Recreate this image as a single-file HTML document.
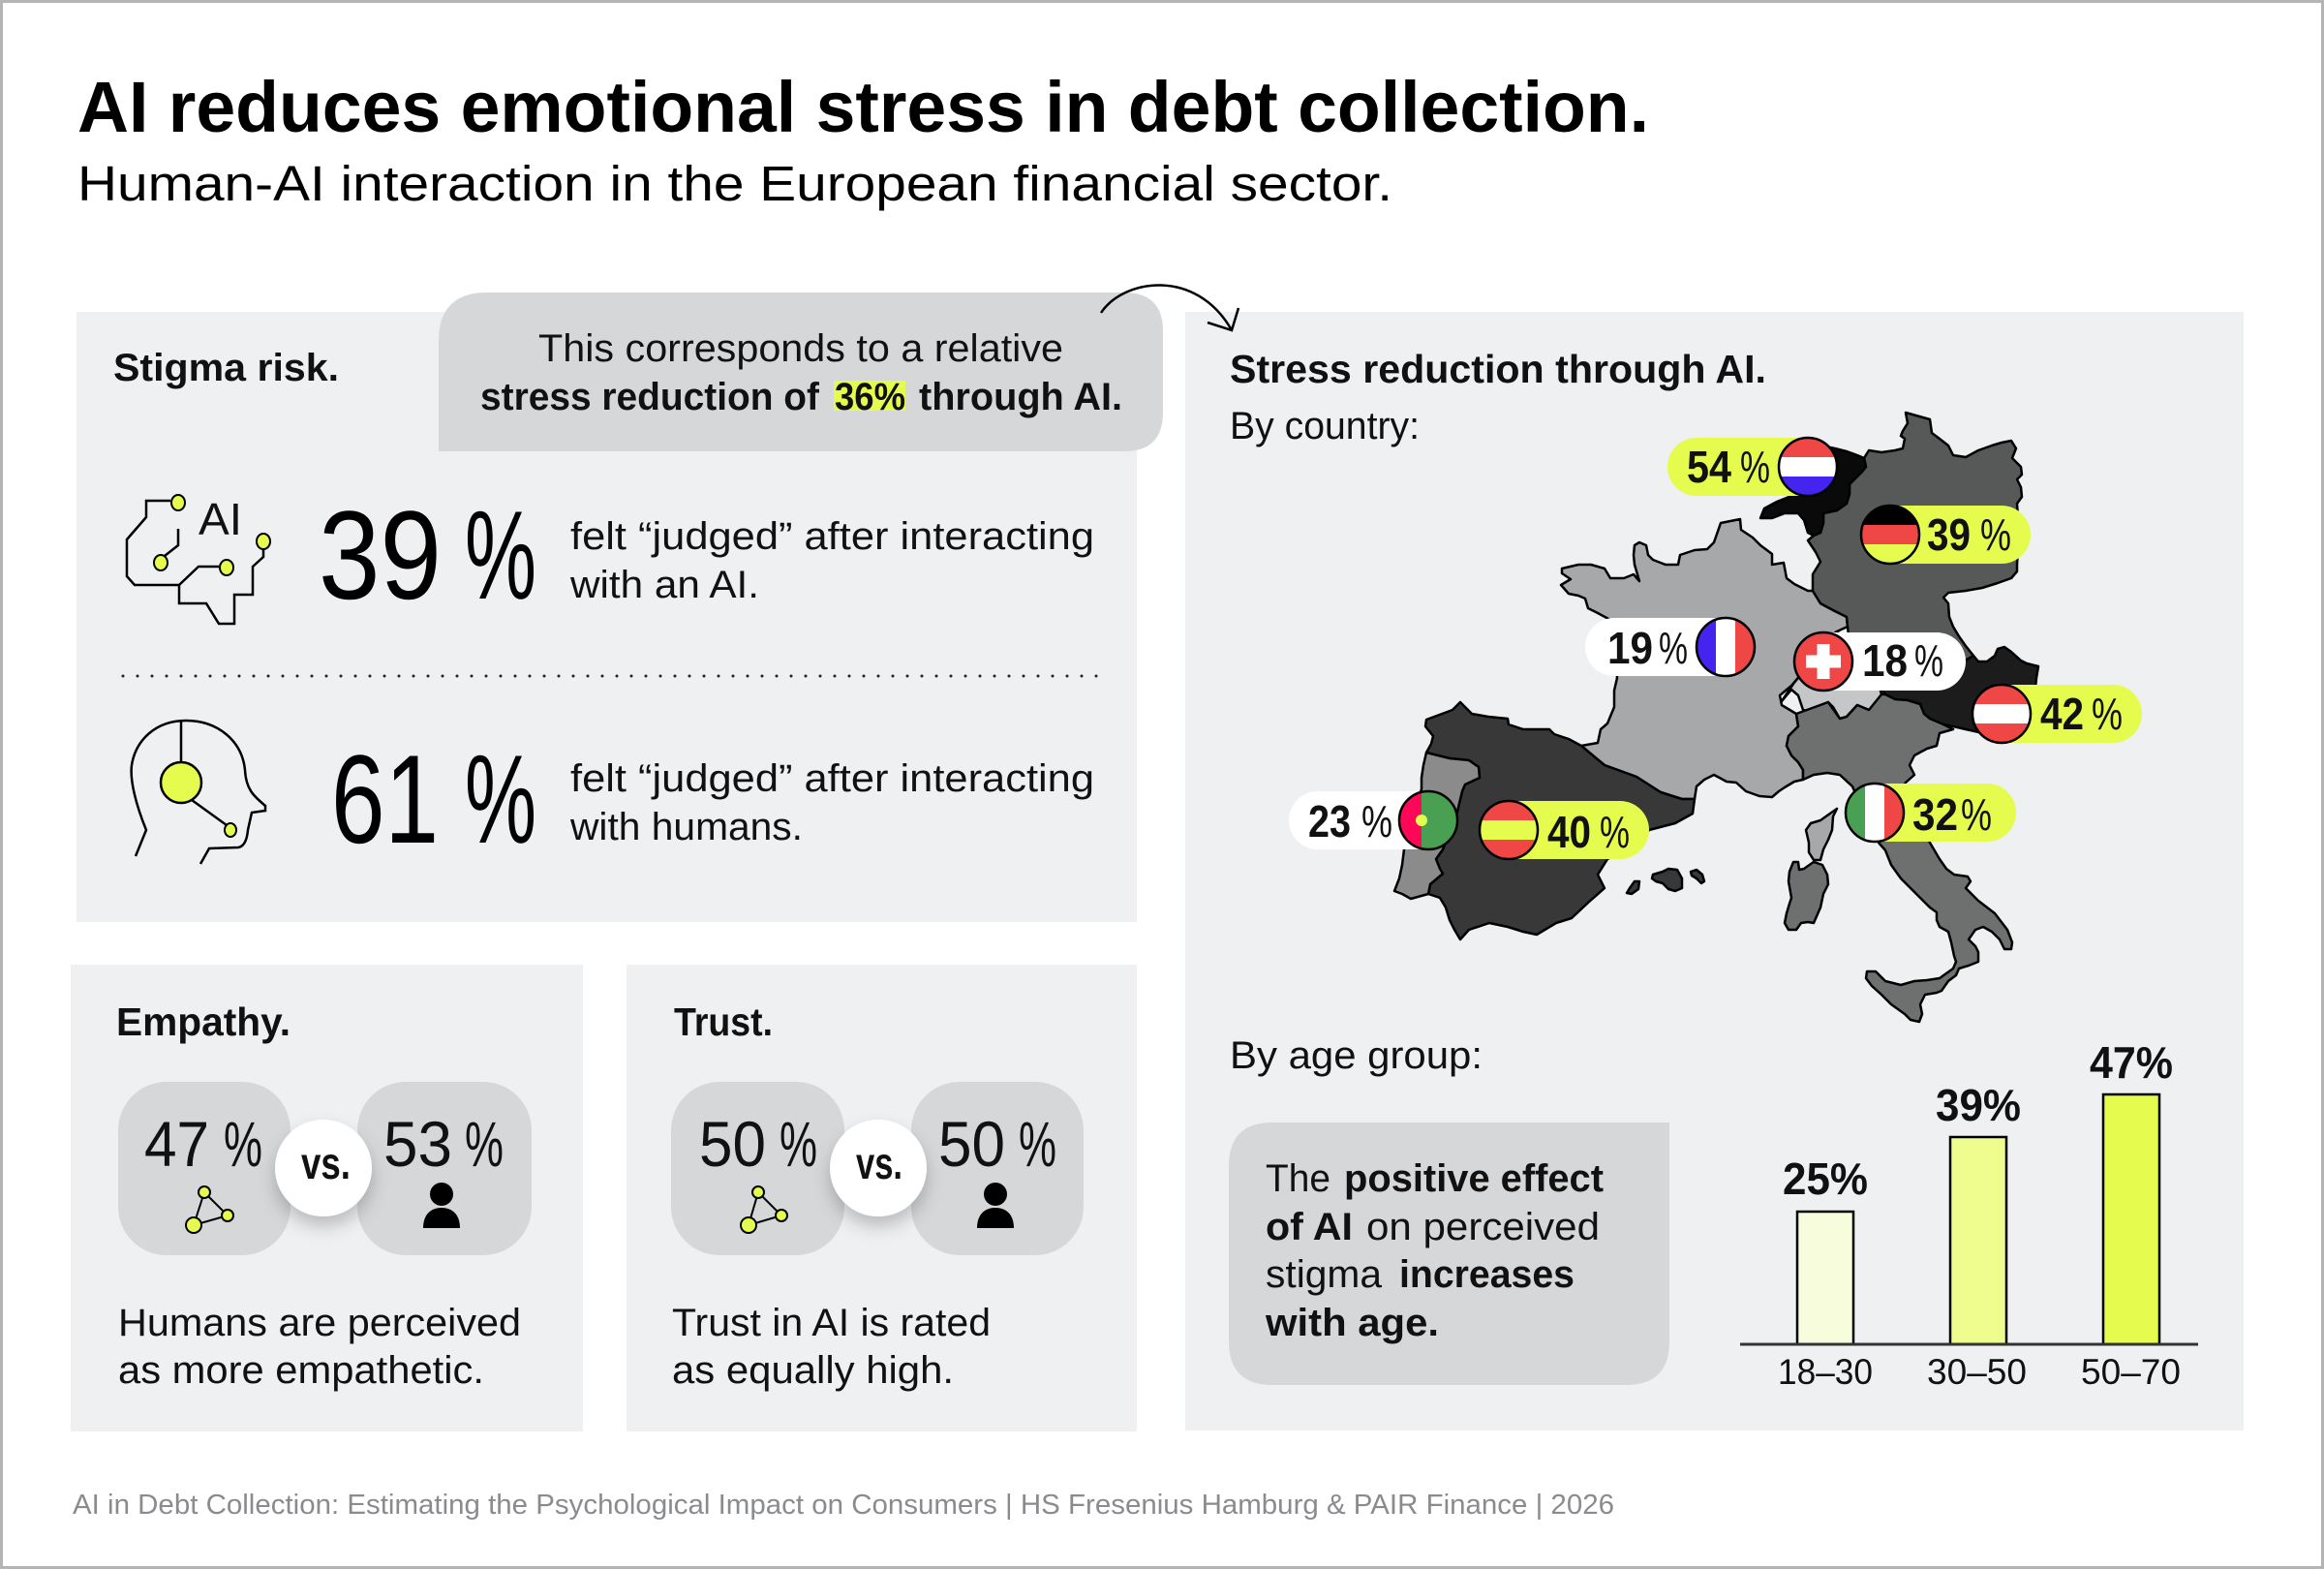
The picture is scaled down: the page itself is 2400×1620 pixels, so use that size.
<!DOCTYPE html>
<html><head><meta charset="utf-8"><style>
html,body{margin:0;padding:0;background:#fff}
svg{display:block}
text{font-family:"Liberation Sans",sans-serif;fill:#111}
.b{font-weight:700}
</style></head><body>
<svg width="2400" height="1620" viewBox="0 0 2400 1620" xmlns="http://www.w3.org/2000/svg">
<defs>
<clipPath id="fc"><circle cx="0" cy="0" r="30"/></clipPath>
<filter id="sh" x="-50%" y="-50%" width="200%" height="200%"><feDropShadow dx="0" dy="10" stdDeviation="9" flood-color="#000" flood-opacity="0.22"/></filter>
</defs>
<rect width="2400" height="1620" fill="#fff"/>
<rect x="1.5" y="1.5" width="2397" height="1617" fill="none" stroke="#b4b4b4" stroke-width="3"/>

<!-- Title -->
<text x="80" y="136" font-size="74" class="b" textLength="1623" lengthAdjust="spacingAndGlyphs" style="fill:#000">AI reduces emotional stress in debt collection.</text>
<text x="80" y="207" font-size="51" textLength="1358" lengthAdjust="spacingAndGlyphs" style="fill:#000">Human-AI interaction in the European financial sector.</text>

<!-- Stigma card -->
<rect x="79" y="322" width="1095" height="630" fill="#eff0f2"/>
<path d="M453,466 L453,352 Q453,302 503,302 L1161,302 Q1201,302 1201,342 L1201,426 Q1201,466 1161,466 Z" fill="#d6d7d9"/>
<rect x="861" y="393" width="74" height="31" fill="#e5fc4e"/>
<text x="556" y="373" font-size="40" textLength="542" lengthAdjust="spacingAndGlyphs">This corresponds to a relative</text>
<text x="496" y="423" font-size="40" class="b" textLength="350" lengthAdjust="spacingAndGlyphs">stress reduction of</text>
<text x="862" y="423" font-size="40" class="b" textLength="73" lengthAdjust="spacingAndGlyphs">36%</text>
<text x="949" y="423" font-size="40" class="b" textLength="210" lengthAdjust="spacingAndGlyphs">through AI.</text>

<text x="117" y="393" font-size="40" class="b" textLength="233" lengthAdjust="spacingAndGlyphs">Stigma risk.</text>

<!-- AI icon -->
<g fill="none" stroke="#000" stroke-width="2.5" stroke-linejoin="miter">
<path d="M176,517 L151,517 L151,534 L131,557 L131,595 L139,604 L185,604 L185,623 L213,623 L226,644 L242,644 L242,614 L261,614 L261,585 L272,575 L272,567"/>
<path d="M185,604 L205,585 L226,585"/>
<path d="M170,574 L184,563 L184,546"/>
</g>
<g fill="#e5fc4e" stroke="#000" stroke-width="2">
<ellipse cx="184" cy="519" rx="7" ry="8"/>
<ellipse cx="272" cy="559" rx="7" ry="8"/>
<ellipse cx="234" cy="586" rx="7" ry="8"/>
<ellipse cx="166" cy="581" rx="7" ry="8"/>
</g>
<text x="205" y="552" font-size="46" textLength="45" lengthAdjust="spacingAndGlyphs">AI</text>

<text x="329" y="618" font-size="130" textLength="127" lengthAdjust="spacingAndGlyphs" style="fill:#000">39</text>
<text x="480" y="618" font-size="130" textLength="74" lengthAdjust="spacingAndGlyphs" style="fill:#000">%</text>
<text x="589" y="567" font-size="40" textLength="541" lengthAdjust="spacingAndGlyphs">felt “judged” after interacting</text>
<text x="589" y="617" font-size="40" textLength="195" lengthAdjust="spacingAndGlyphs">with an AI.</text>

<line x1="127" y1="698" x2="1140" y2="698" stroke="#222" stroke-width="3" stroke-dasharray="0 15" stroke-linecap="round"/>

<!-- Head icon -->
<g fill="none" stroke="#000" stroke-width="2.5">
<path d="M140,884 L151,857 C140,830 134,805 136,790 C140,765 160,744 192,744 C225,744 250,765 253,795 C254,815 262,822 274,832 L274,837 L260,839 L256,857 C255,868 252,874 246,875 L216,876 L207,892"/>
<path d="M187,745 L187,787"/>
<path d="M198,826 L234,852"/>
</g>
<circle cx="187" cy="808" r="21" fill="#e5fc4e" stroke="#000" stroke-width="2.5"/>
<ellipse cx="238" cy="857" rx="6" ry="7" fill="#e5fc4e" stroke="#000" stroke-width="2"/>

<text x="342" y="870" font-size="130" textLength="111" lengthAdjust="spacingAndGlyphs" style="fill:#000">61</text>
<text x="480" y="870" font-size="130" textLength="74" lengthAdjust="spacingAndGlyphs" style="fill:#000">%</text>
<text x="589" y="817" font-size="40" textLength="541" lengthAdjust="spacingAndGlyphs">felt “judged” after interacting</text>
<text x="589" y="867" font-size="40" textLength="240" lengthAdjust="spacingAndGlyphs">with humans.</text>

<!-- Empathy card -->
<rect x="73" y="996" width="529" height="482" fill="#eff0f2"/>
<text x="120" y="1069" font-size="41" class="b" textLength="180" lengthAdjust="spacingAndGlyphs">Empathy.</text>
<rect x="122" y="1117" width="178" height="179" rx="50" fill="#d6d7d9"/>
<rect x="369" y="1117" width="180" height="179" rx="50" fill="#d6d7d9"/>
<circle cx="334" cy="1206" r="50" fill="#fff" filter="url(#sh)"/>
<text x="311" y="1217" font-size="46" class="b" textLength="51" lengthAdjust="spacingAndGlyphs">vs.</text>
<text x="149" y="1204" font-size="66" textLength="67" lengthAdjust="spacingAndGlyphs">47</text>
<text x="231" y="1204" font-size="66" textLength="40" lengthAdjust="spacingAndGlyphs">%</text>
<text x="396" y="1204" font-size="66" textLength="71" lengthAdjust="spacingAndGlyphs">53</text>
<text x="480" y="1204" font-size="66" textLength="40" lengthAdjust="spacingAndGlyphs">%</text>
<g stroke="#000" stroke-width="2">
<path d="M211,1231 L200,1265 L235,1255 Z" fill="none"/>
<circle cx="211" cy="1231" r="6" fill="#e5fc4e"/>
<circle cx="235" cy="1255" r="6" fill="#e5fc4e"/>
<circle cx="200" cy="1265" r="8" fill="#e5fc4e"/>
</g>
<circle cx="456" cy="1233" r="12" fill="#000"/>
<path d="M437,1268 L475,1268 C475,1255 468,1247 456,1247 C444,1247 437,1255 437,1268 Z" fill="#000"/>
<text x="122" y="1379" font-size="40" textLength="416" lengthAdjust="spacingAndGlyphs">Humans are perceived</text>
<text x="122" y="1428" font-size="40" textLength="378" lengthAdjust="spacingAndGlyphs">as more empathetic.</text>

<!-- Trust card -->
<rect x="647" y="996" width="527" height="482" fill="#eff0f2"/>
<text x="696" y="1069" font-size="41" class="b" textLength="102" lengthAdjust="spacingAndGlyphs">Trust.</text>
<rect x="693" y="1117" width="179" height="179" rx="50" fill="#d6d7d9"/>
<rect x="941" y="1117" width="178" height="179" rx="50" fill="#d6d7d9"/>
<circle cx="907" cy="1206" r="50" fill="#fff" filter="url(#sh)"/>
<text x="884" y="1217" font-size="46" class="b" textLength="48" lengthAdjust="spacingAndGlyphs">vs.</text>
<text x="722" y="1204" font-size="66" textLength="69" lengthAdjust="spacingAndGlyphs">50</text>
<text x="805" y="1204" font-size="66" textLength="39" lengthAdjust="spacingAndGlyphs">%</text>
<text x="969" y="1204" font-size="66" textLength="69" lengthAdjust="spacingAndGlyphs">50</text>
<text x="1052" y="1204" font-size="66" textLength="39" lengthAdjust="spacingAndGlyphs">%</text>
<g stroke="#000" stroke-width="2">
<path d="M783,1231 L773,1265 L807,1255 Z" fill="none"/>
<circle cx="783" cy="1231" r="6" fill="#e5fc4e"/>
<circle cx="807" cy="1255" r="6" fill="#e5fc4e"/>
<circle cx="773" cy="1265" r="8" fill="#e5fc4e"/>
</g>
<circle cx="1028" cy="1233" r="12" fill="#000"/>
<path d="M1009,1268 L1047,1268 C1047,1255 1040,1247 1028,1247 C1016,1247 1009,1255 1009,1268 Z" fill="#000"/>
<text x="694" y="1379" font-size="40" textLength="329" lengthAdjust="spacingAndGlyphs">Trust in AI is rated</text>
<text x="694" y="1428" font-size="40" textLength="291" lengthAdjust="spacingAndGlyphs">as equally high.</text>

<!-- Right card -->
<rect x="1224" y="322" width="1093" height="1155" fill="#eff0f2"/>
<text x="1270" y="395" font-size="41" class="b" textLength="554" lengthAdjust="spacingAndGlyphs">Stress reduction through AI.</text>
<text x="1270" y="453" font-size="40" textLength="196" lengthAdjust="spacingAndGlyphs">By country:</text>

<!-- Arrow (drawn over right card) -->
<path d="M1137,323 C1160,288 1235,276 1272,341" fill="none" stroke="#000" stroke-width="2.5"/>
<path d="M1247,333 L1272,341 L1279,318" fill="none" stroke="#000" stroke-width="2.5" stroke-linejoin="miter"/>

<!-- Map -->
<g stroke="#000" stroke-width="2.5" stroke-linejoin="round">
<polygon fill="#a7a8aa" points="1613,587 1630,583 1643,583 1657,587 1663,597 1677,597 1687,593 1693,600 1688,583 1687,573 1688,563 1693,560 1700,563 1702,573 1707,578 1720,583 1733,583 1735,573 1750,568 1763,567 1770,560 1777,540 1797,536 1798,547 1810,555 1818,563 1830,572 1830,583 1842,581 1845,597 1853,603 1867,610 1872,610 1880,623 1893,630 1907,637 1908,647 1897,652 1880,665 1865,690 1850,708 1838,718 1840,728 1855,737 1857,750 1847,760 1845,770 1850,780 1857,787 1862,795 1862,805 1853,807 1843,813 1837,817 1830,823 1817,822 1803,817 1793,808 1783,807 1770,800 1760,805 1752,812 1750,825 1737,825 1715,818 1690,802 1657,790 1633,770 1650,767 1653,753 1660,747 1667,730 1667,713 1670,700 1668,670 1663,640 1650,633 1640,628 1637,618 1630,615 1620,613 1612,604 1622,598 1613,592"/>
<polygon fill="#575858" points="1968,426 1993,433 1995,447 2003,453 2012,460 2017,470 2030,472 2043,465 2057,460 2067,457 2077,455 2082,463 2078,473 2087,482 2088,490 2083,495 2087,503 2088,513 2083,520 2085,550 2083,583 2083,590 2077,597 2063,602 2047,607 2030,610 2012,612 2007,617 2012,623 2013,637 2017,647 2023,657 2030,667 2038,677 2033,680 2000,697 1940,700 1910,665 1908,647 1907,637 1893,630 1880,623 1872,610 1872,593 1880,580 1875,570 1867,558 1873,553 1880,550 1883,540 1883,530 1897,527 1907,520 1910,510 1910,500 1923,487 1927,482 1925,473 1930,465 1943,467 1957,465 1965,463 1967,453 1963,450 1965,445 1970,437"/>
<polygon fill="#0a0a0a" points="1880,460 1895,463 1907,466 1918,470 1925,473 1927,482 1923,487 1910,500 1910,510 1907,520 1897,527 1883,530 1883,540 1880,550 1873,553 1867,550 1863,537 1857,530 1843,530 1830,535 1818,535 1822,525 1835,518 1850,512 1860,500 1870,470"/>
<polygon fill="#c5c6c8" points="1840,724 1850,712 1857,718 1862,733 1870,735 1880,728 1888,725 1893,730 1900,742 1907,740 1918,728 1930,733 1937,728 1943,717 1940,705 1930,700 1910,668 1897,652 1880,665 1865,690 1852,706"/>
<polygon fill="#1c1c1c" points="2038,677 2043,683 2052,683 2060,677 2063,670 2070,668 2077,673 2087,682 2093,685 2105,688 2103,700 2102,710 2100,740 2070,762 2030,753 2017,750 2007,748 1993,742 1987,737 1983,727 1970,723 1957,722 1947,717 1943,712 1960,700 2000,697 2033,680"/>
<polygon fill="#6e6f6f" points="1855,737 1888,725 1900,742 1907,740 1918,728 1930,733 1943,717 1947,717 1957,722 1970,723 1983,727 1987,737 1993,742 2007,748 2017,753 2003,757 2000,770 1990,773 1977,780 1972,790 1977,800 1968,808 1963,815 1980,850 1993,870 2003,887 2010,897 2018,903 2032,905 2035,910 2030,917 2043,930 2060,943 2073,960 2078,973 2077,980 2070,980 2065,970 2057,962 2048,957 2040,960 2033,970 2040,977 2043,983 2043,993 2033,997 2023,1000 2020,1007 2012,1013 2005,1023 2000,1025 1988,1027 1983,1037 1985,1047 1982,1055 1973,1053 1967,1047 1953,1037 1943,1027 1933,1018 1927,1010 1928,1003 1937,1003 1947,1013 1963,1017 1977,1013 1990,1012 2003,1010 2017,1000 2020,993 2018,987 2015,973 2012,962 2003,957 2000,950 2000,942 1993,937 1983,927 1973,917 1963,907 1953,893 1947,878 1940,870 1925,840 1913,812 1900,800 1887,798 1873,800 1862,805 1862,795 1857,787 1850,780 1845,770 1847,760 1857,750"/>
<polygon fill="#a7a8aa" points="1897,835 1893,843 1892,857 1888,867 1883,877 1880,888 1873,888 1868,880 1868,870 1865,857 1870,850 1880,847 1887,842"/>
<polygon fill="#6e6f6f" points="1873,890 1882,893 1887,903 1888,913 1883,923 1880,937 1873,953 1867,952 1860,953 1855,960 1847,960 1843,953 1845,943 1848,933 1850,927 1847,910 1848,900 1852,890 1857,890 1858,898 1863,897 1870,892"/>
<polygon fill="#383838" points="1473,743 1500,733 1508,725 1520,737 1537,740 1557,742 1558,748 1573,753 1600,753 1605,758 1620,763 1633,770 1657,790 1690,802 1715,818 1737,825 1750,825 1748,840 1730,850 1703,857 1690,870 1660,887 1650,903 1657,917 1640,932 1623,948 1607,953 1587,965 1573,962 1557,957 1538,953 1517,960 1508,970 1502,960 1497,950 1493,937 1487,927 1475,923 1477,913 1490,902 1487,897 1483,887 1490,877 1505,838 1510,817 1513,810 1528,803 1527,792 1517,785 1497,783 1473,777 1478,768 1480,760 1472,750"/>
<polygon fill="#8b8b8b" points="1473,777 1497,783 1517,785 1527,792 1528,803 1513,810 1510,817 1505,838 1490,877 1483,887 1487,897 1490,902 1477,913 1475,923 1457,928 1448,923 1440,920 1445,907 1448,893 1450,877 1455,850 1462,830 1468,815 1468,803 1470,790"/>
<polygon fill="#383838" points="1707,903 1717,900 1723,897 1732,898 1737,907 1737,917 1730,920 1723,918 1717,912 1710,910 1706,907"/>
<polygon fill="#383838" points="1746,900 1752,898 1758,903 1760,910 1757,912 1752,907 1747,904"/>
<polygon fill="#383838" points="1683,917 1688,910 1693,910 1692,918 1685,923 1680,922"/>
</g>

<!-- Map pills -->
<rect x="1722" y="452" width="175" height="60" rx="30" fill="#e5fc4e"/>
<rect x="1922" y="522" width="175" height="60" rx="30" fill="#e5fc4e"/>
<rect x="1637" y="638" width="175" height="60" rx="30" fill="#fff"/>
<rect x="1853" y="653" width="177" height="60" rx="30" fill="#fff"/>
<rect x="2037" y="707" width="175" height="60" rx="30" fill="#e5fc4e"/>
<rect x="1906" y="809" width="176" height="60" rx="30" fill="#e5fc4e"/>
<rect x="1528" y="827" width="175" height="60" rx="30" fill="#e5fc4e"/>
<rect x="1331" y="817" width="174" height="60" rx="30" fill="#fff"/>

<!-- Flags -->
<g transform="translate(1867,482)"><g clip-path="url(#fc)"><rect x="-30" y="-30" width="60" height="20" fill="#ef4646"/><rect x="-30" y="-10" width="60" height="20" fill="#fff"/><rect x="-30" y="10" width="60" height="20" fill="#4424ee"/></g><circle r="30" fill="none" stroke="#000" stroke-width="2.5"/></g>
<g transform="translate(1952,552)"><g clip-path="url(#fc)"><rect x="-30" y="-30" width="60" height="20" fill="#000"/><rect x="-30" y="-10" width="60" height="20" fill="#ef4646"/><rect x="-30" y="10" width="60" height="20" fill="#e5fc4e"/></g><circle r="30" fill="none" stroke="#000" stroke-width="2.5"/></g>
<g transform="translate(1782,668)"><g clip-path="url(#fc)"><rect x="-30" y="-30" width="20" height="60" fill="#4424ee"/><rect x="-10" y="-30" width="20" height="60" fill="#fff"/><rect x="10" y="-30" width="20" height="60" fill="#ef4646"/></g><circle r="30" fill="none" stroke="#000" stroke-width="2.5"/></g>
<g transform="translate(1883,683)"><g clip-path="url(#fc)"><rect x="-30" y="-30" width="60" height="60" fill="#ef4646"/><rect x="-6.5" y="-18" width="13" height="36" fill="#fff"/><rect x="-18" y="-6.5" width="36" height="13" fill="#fff"/></g><circle r="30" fill="none" stroke="#000" stroke-width="2.5"/></g>
<g transform="translate(2067,737)"><g clip-path="url(#fc)"><rect x="-30" y="-30" width="60" height="20" fill="#ef4646"/><rect x="-30" y="-10" width="60" height="20" fill="#fff"/><rect x="-30" y="10" width="60" height="20" fill="#ef4646"/></g><circle r="30" fill="none" stroke="#000" stroke-width="2.5"/></g>
<g transform="translate(1936,839)"><g clip-path="url(#fc)"><rect x="-30" y="-30" width="20" height="60" fill="#4aa052"/><rect x="-10" y="-30" width="20" height="60" fill="#fff"/><rect x="10" y="-30" width="20" height="60" fill="#ef4646"/></g><circle r="30" fill="none" stroke="#000" stroke-width="2.5"/></g>
<g transform="translate(1558,857)"><g clip-path="url(#fc)"><rect x="-30" y="-30" width="60" height="20" fill="#ef4646"/><rect x="-30" y="-10" width="60" height="20" fill="#e5fc4e"/><rect x="-30" y="10" width="60" height="20" fill="#ef4646"/></g><circle r="30" fill="none" stroke="#000" stroke-width="2.5"/></g>
<g transform="translate(1475,847)"><g clip-path="url(#fc)"><rect x="-30" y="-30" width="23" height="60" fill="#ff0759"/><rect x="-7" y="-30" width="37" height="60" fill="#4aa052"/><circle cx="-7" cy="0" r="6" fill="#e5fc4e"/></g><circle r="30" fill="none" stroke="#000" stroke-width="2.5"/></g>

<!-- Pill labels -->
<g style="fill:#000">
<text x="1742" y="498" font-size="46" class="b" textLength="46" lengthAdjust="spacingAndGlyphs">54</text>
<text x="1797" y="498" font-size="46" textLength="31" lengthAdjust="spacingAndGlyphs">%</text>
<text x="1990" y="568" font-size="46" class="b" textLength="45" lengthAdjust="spacingAndGlyphs">39</text>
<text x="2045" y="568" font-size="46" textLength="32" lengthAdjust="spacingAndGlyphs">%</text>
<text x="1660" y="685" font-size="46" class="b" textLength="47" lengthAdjust="spacingAndGlyphs">19</text>
<text x="1713" y="685" font-size="46" textLength="30" lengthAdjust="spacingAndGlyphs">%</text>
<text x="1923" y="698" font-size="46" class="b" textLength="47" lengthAdjust="spacingAndGlyphs">18</text>
<text x="1977" y="698" font-size="46" textLength="30" lengthAdjust="spacingAndGlyphs">%</text>
<text x="2107" y="753" font-size="46" class="b" textLength="45" lengthAdjust="spacingAndGlyphs">42</text>
<text x="2160" y="753" font-size="46" textLength="32" lengthAdjust="spacingAndGlyphs">%</text>
<text x="1975" y="857" font-size="46" class="b" textLength="47" lengthAdjust="spacingAndGlyphs">32</text>
<text x="2025" y="857" font-size="46" textLength="32" lengthAdjust="spacingAndGlyphs">%</text>
<text x="1598" y="875" font-size="46" class="b" textLength="45" lengthAdjust="spacingAndGlyphs">40</text>
<text x="1652" y="875" font-size="46" textLength="31" lengthAdjust="spacingAndGlyphs">%</text>
<text x="1351" y="864" font-size="46" class="b" textLength="44" lengthAdjust="spacingAndGlyphs">23</text>
<text x="1406" y="864" font-size="46" textLength="32" lengthAdjust="spacingAndGlyphs">%</text>
</g>

<!-- Age group -->
<text x="1270" y="1103" font-size="40" textLength="261" lengthAdjust="spacingAndGlyphs">By age group:</text>
<path d="M1269,1430 L1269,1204 Q1269,1159 1314,1159 L1724,1159 L1724,1385 Q1724,1430 1679,1430 L1314,1430 Q1269,1430 1269,1385 Z" fill="#d6d7d9"/>
<text x="1307" y="1230" font-size="40" textLength="67" lengthAdjust="spacingAndGlyphs">The</text>
<text x="1388" y="1230" font-size="40" class="b" textLength="268" lengthAdjust="spacingAndGlyphs">positive effect</text>
<text x="1307" y="1280" font-size="40" class="b" textLength="90" lengthAdjust="spacingAndGlyphs">of AI</text>
<text x="1411" y="1280" font-size="40" textLength="241" lengthAdjust="spacingAndGlyphs">on perceived</text>
<text x="1307" y="1329" font-size="40" textLength="120" lengthAdjust="spacingAndGlyphs">stigma</text>
<text x="1445" y="1329" font-size="40" class="b" textLength="181" lengthAdjust="spacingAndGlyphs">increases</text>
<text x="1307" y="1379" font-size="40" class="b" textLength="179" lengthAdjust="spacingAndGlyphs">with age.</text>

<g stroke="#000" stroke-width="2.5">
<rect x="1856" y="1251" width="58" height="137" fill="#f6fcdc"/>
<rect x="2014" y="1174" width="58" height="214" fill="#eefd8e"/>
<rect x="2172" y="1130" width="58" height="258" fill="#e5fc4e"/>
</g>
<line x1="1797" y1="1388" x2="2270" y2="1388" stroke="#333" stroke-width="3"/>
<text x="1841" y="1233" font-size="46" class="b" textLength="88" lengthAdjust="spacingAndGlyphs">25%</text>
<text x="1999" y="1157" font-size="46" class="b" textLength="88" lengthAdjust="spacingAndGlyphs">39%</text>
<text x="2158" y="1113" font-size="46" class="b" textLength="86" lengthAdjust="spacingAndGlyphs">47%</text>
<text x="1836" y="1429" font-size="37" textLength="98" lengthAdjust="spacingAndGlyphs">18–30</text>
<text x="1990" y="1429" font-size="37" textLength="103" lengthAdjust="spacingAndGlyphs">30–50</text>
<text x="2149" y="1429" font-size="37" textLength="103" lengthAdjust="spacingAndGlyphs">50–70</text>

<!-- Footer -->
<text x="75" y="1563" font-size="29" textLength="1592" lengthAdjust="spacingAndGlyphs" style="fill:#898b8e">AI in Debt Collection: Estimating the Psychological Impact on Consumers | HS Fresenius Hamburg &amp; PAIR Finance | 2026</text>
</svg>
</body></html>
